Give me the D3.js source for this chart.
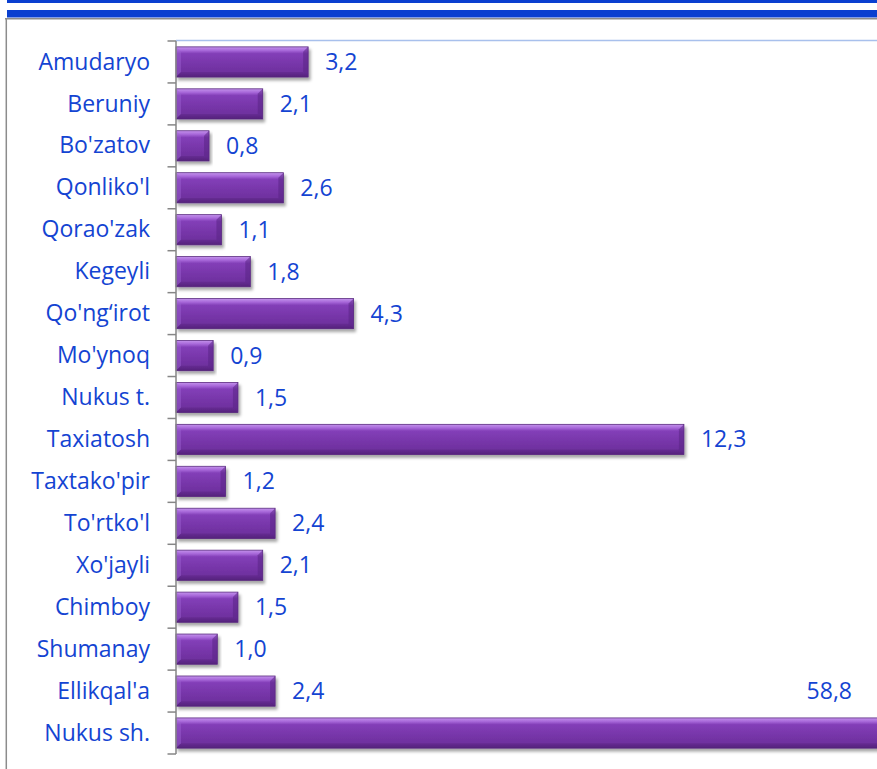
<!DOCTYPE html>
<html>
<head>
<meta charset="utf-8">
<script src="https://cdn.jsdelivr.net/npm/d3@7"></script>
<style>
  html, body { margin: 0; padding: 0; background: #ffffff; }
  svg { display: block; }
</style>
</head>
<body>
<svg id="chart" width="877" height="769"></svg>
<script>
// Districts of Karakalpakstan and their shares (%)
const categories = [
  "Amudaryo", "Beruniy", "Bo'zatov", "Qonliko'l", "Qorao'zak", "Kegeyli",
  "Qo'ng\u2018irot", "Mo'ynoq", "Nukus t.", "Taxiatosh", "Taxtako'pir",
  "To'rtko'l", "Xo'jayli", "Chimboy", "Shumanay", "Ellikqal'a", "Nukus sh."
];
const values = [3.2, 2.1, 0.8, 2.6, 1.1, 1.8, 4.3, 0.9, 1.5, 12.3, 1.2, 2.4, 2.1, 1.5, 1.0, 2.4, 58.8];
const valueLabels = ["3,2", "2,1", "0,8", "2,6", "1,1", "1,8", "4,3", "0,9", "1,5", "12,3", "1,2", "2,4", "2,1", "1,5", "1,0", "2,4", "58,8"];

const W = 877, H = 769;
const svg = d3.select("#chart");
const defs = svg.append("defs");

const font = "'Open Sans', sans-serif";
const fontSize = 23;
const textBlue = "#1444d2";

// decorative header bands and frame
svg.append("rect").attr("x", 7).attr("y", 0).attr("width", W - 7).attr("height", 3).attr("fill", "#0a3fd0");
svg.append("rect").attr("x", 7).attr("y", 10).attr("width", W - 7).attr("height", 7.5).attr("fill", "#0a3fd0");
svg.append("line").attr("x1", 5).attr("x2", W).attr("y1", 18.8).attr("y2", 18.8)
  .attr("stroke", "#8c8c8c").attr("stroke-width", 1.5);
svg.append("line").attr("x1", 6.3).attr("x2", 6.3).attr("y1", 18).attr("y2", H)
  .attr("stroke", "#8c8c8c").attr("stroke-width", 1.5);

// scales
const x = d3.scaleLinear().domain([0, 17]).range([176, 878]);
const y = d3.scaleBand().domain(categories).range([41, 754]).paddingInner(0.28).paddingOuter(0.14);

// gradients and shadow for the bevelled bars
const grad = defs.append("linearGradient").attr("id", "barGrad")
  .attr("x1", 0).attr("y1", 0).attr("x2", 0).attr("y2", 1);
[[0, "#c493ec"], [0.12, "#a767d9"], [0.22, "#833fb8"], [0.6, "#7635a8"], [0.85, "#6e309e"], [1, "#57257f"]]
  .forEach(([o, c]) => grad.append("stop").attr("offset", o).attr("stop-color", c));

const shadow = defs.append("filter").attr("id", "barShadow")
  .attr("x", "-5%").attr("y", "-20%").attr("width", "115%").attr("height", "160%");
shadow.append("feDropShadow").attr("dx", 2).attr("dy", 3).attr("stdDeviation", 1.8)
  .attr("flood-color", "#000").attr("flood-opacity", 0.35);

// top gridline
svg.append("line").attr("x1", x(0)).attr("x2", W).attr("y1", 40.5).attr("y2", 40.5)
  .attr("stroke", "#a8c0ec").attr("stroke-width", 1.5);

// bars
const bars = svg.append("g").selectAll("g.bar")
  .data(categories.map((c, i) => ({ c, v: values[i], lab: valueLabels[i] })))
  .join("g").attr("class", "bar")
  .attr("transform", d => `translate(${x(0)},${y(d.c)})`);

const bh = y.bandwidth();
const bv = 5;

bars.append("rect")
  .attr("width", d => x(d.v) - x(0)).attr("height", bh)
  .attr("fill", "url(#barGrad)").attr("stroke", "#5b2c80").attr("stroke-width", 0.8)
  .attr("filter", "url(#barShadow)");

// right-end bevel
bars.append("path")
  .attr("d", d => {
    const w = x(d.v) - x(0);
    return `M${w},0 L${w},${bh} L${w - bv},${bh - bv} L${w - bv},${bv} Z`;
  })
  .attr("fill", "#5a2585").attr("opacity", 0.55);

// left-end bevel
bars.append("path")
  .attr("d", `M0,0 L${bv},${bv} L${bv},${bh - bv} L0,${bh} Z`)
  .attr("fill", "#9e62d2").attr("opacity", 0.45);

// bottom bevel
bars.append("path")
  .attr("d", d => {
    const w = x(d.v) - x(0);
    return `M0,${bh} L${bv},${bh - bv} L${w - bv},${bh - bv} L${w},${bh} Z`;
  })
  .attr("fill", "#4e1f74").attr("opacity", 0.3);

// axis line and tick marks at band boundaries
const step = y.step();
const y0 = y.range()[0];
svg.append("line").attr("x1", x(0)).attr("x2", x(0)).attr("y1", y0).attr("y2", y0 + step * categories.length)
  .attr("stroke", "#868686").attr("stroke-width", 1.5);
svg.append("g").selectAll("line")
  .data(d3.range(categories.length + 1))
  .join("line")
  .attr("x1", x(0) - 8.5).attr("x2", x(0))
  .attr("y1", i => y0 + i * step).attr("y2", i => y0 + i * step)
  .attr("stroke", "#868686").attr("stroke-width", 1.5);

// category labels
svg.append("g").selectAll("text")
  .data(categories)
  .join("text")
  .attr("x", x(0) - 26)
  .attr("y", d => y(d) + bh / 2)
  .attr("dy", "0.33em")
  .attr("text-anchor", "end")
  .attr("font-family", font).attr("font-size", fontSize)
  .attr("fill", textBlue)
  .text(d => d);

// value labels; the last bar runs past the plot, so its label sits inside the visible area above it
const last = categories.length - 1;
svg.append("g").selectAll("text")
  .data(categories.map((c, i) => ({ c, v: values[i], lab: valueLabels[i], i })))
  .join("text")
  .attr("x", d => d.i === last ? W - 25 : x(d.v) + 17)
  .attr("y", d => d.i === last ? y(d.c) - step + bh / 2 : y(d.c) + bh / 2)
  .attr("dy", "0.35em")
  .attr("text-anchor", d => d.i === last ? "end" : "start")
  .attr("font-family", font).attr("font-size", fontSize)
  .attr("fill", textBlue)
  .text(d => d.lab);
</script>
</body>
</html>
